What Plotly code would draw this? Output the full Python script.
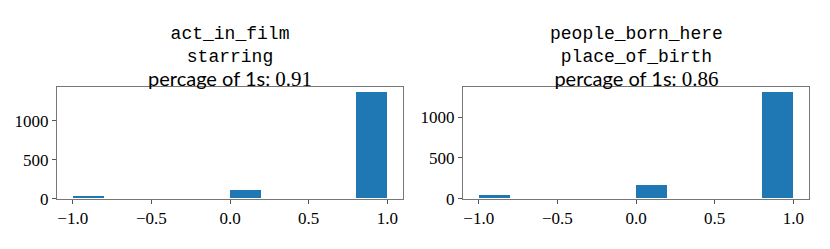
import plotly.graph_objects as go

bin_centers = [-0.9, -0.7, -0.5, -0.3, -0.1, 0.1, 0.3, 0.5, 0.7, 0.9]
counts_left = [33, 0, 0, 0, 0, 112, 0, 0, 0, 1362]
counts_right = [47, 0, 0, 0, 0, 166, 0, 0, 0, 1301]
titles_left = ["act_in_film", "starring", "0.91"]
titles_right = ["people_born_here", "place_of_birth", "0.86"]
x_tickvals = [-1.0, -0.5, 0.0, 0.5, 1.0]
x_ticktext = ["\u22121.0", "\u22120.5", "0.0", "0.5", "1.0"]
y_tickvals = [0, 500, 1000]
y_ticktext = ["0", "500", "1000"]

W, H = 830, 249
BLUE = "#1f77b4"
SERIF = "Liberation Serif, DejaVu Serif, serif"
MONO = "Liberation Mono, DejaVu Sans Mono, monospace"
SANS = "Lato, DejaVu Sans, sans-serif"


def px(x):
    return x / W


def py(y):
    return 1 - y / H


fig = go.Figure()
panels = [
    (counts_left, titles_left, (57, 403), "x", "y"),
    (counts_right, titles_right, (463, 809), "x2", "y2"),
]
top_px, bot_px = 91, 207
for counts, titles, (x0, x1), xa, ya in panels:
    fig.add_trace(go.Bar(
        x=bin_centers, y=counts, width=0.2,
        marker=dict(color=BLUE, line=dict(width=0)),
        xaxis=xa, yaxis=ya, showlegend=False, hoverinfo="skip",
    ))
    cx = px((x0 + x1) / 2)
    text = (titles[0] + "<br>" + titles[1] + "<br>"
            "<span style='font-family:" + SANS + ";font-size:20px'>percage of 1s: </span>"
            "<span style='font-family:" + SERIF + ";font-size:21px'>" + titles[2] + "</span>")
    fig.add_annotation(x=cx, y=py(97), xref="paper", yref="paper",
                       text=text, showarrow=False, align="center",
                       font=dict(family=MONO, size=18, color="black"),
                       xanchor="center", yanchor="bottom")

axis_common = dict(showline=True, linecolor="#777", linewidth=1, mirror=True,
                   ticks="outside", ticklen=4, tickcolor="#555", tickwidth=1,
                   showgrid=False, zeroline=False,
                   tickfont=dict(family=SERIF, size=17, color="black"))

ydom = [py(bot_px), py(top_px)]
fig.update_layout(
    width=W, height=H, margin=dict(l=0, r=0, t=0, b=0),
    paper_bgcolor="white", plot_bgcolor="white", bargap=0,
    xaxis=dict(domain=[px(57), px(403)], range=[-1.1, 1.1], anchor="y",
               tickvals=x_tickvals, ticktext=x_ticktext, **axis_common),
    yaxis=dict(domain=ydom, range=[0, 1362 * 1.05], anchor="x",
               tickvals=y_tickvals, ticktext=y_ticktext, **axis_common),
    xaxis2=dict(domain=[px(463), px(809)], range=[-1.1, 1.1], anchor="y2",
                tickvals=x_tickvals, ticktext=x_ticktext, **axis_common),
    yaxis2=dict(domain=ydom, range=[0, 1301 * 1.05], anchor="x2",
                tickvals=y_tickvals, ticktext=y_ticktext, **axis_common),
)

fig.write_html("out.html", config={"displayModeBar": False},
               post_script="document.body.style.margin='0';")
